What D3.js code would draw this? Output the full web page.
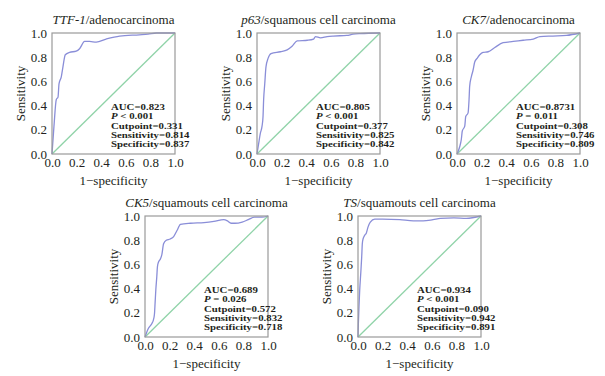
<!DOCTYPE html>
<html>
<head>
<meta charset="utf-8">
<script src="https://cdn.jsdelivr.net/npm/d3@7"></script>
<style>
  body { margin: 0; background: #fff; }
</style>
</head>
<body>
<svg id="chart" width="605" height="376"></svg>
<script>
// ---- data ----
const markers  = ["TTF-1", "p63", "CK7", "CK5", "TS"];
const subtypes = ["/adenocarcinoma", "/squamous cell carcinoma", "/adenocarcinoma",
                  "/squamouts cell carcinoma", "/squamouts cell carcinoma"];

const aucs        = ["0.823", "0.805", "0.8731", "0.689", "0.934"];
const pValues     = ["< 0.001", "< 0.001", "= 0.011", "= 0.026", "< 0.001"];
const cutpoints   = ["0.331", "0.377", "0.308", "0.572", "0.090"];
const sensitivity = ["0.814", "0.825", "0.746", "0.832", "0.942"];
const specificity = ["0.837", "0.842", "0.809", "0.718", "0.891"];

const tickValues = [0, 0.2, 0.4, 0.6, 0.8, 1.0];

// [1-specificity, sensitivity]
const ttf1Roc = [[0,0],[0.016,0.23],[0.035,0.45],[0.049,0.47],[0.057,0.58],[0.076,0.64],
  [0.089,0.72],[0.108,0.82],[0.143,0.84],[0.197,0.85],[0.224,0.87],[0.265,0.93],[0.305,0.93],
  [0.36,0.925],[0.44,0.95],[0.55,0.975],[0.71,0.985],[0.78,0.99],[0.85,1.0],[1,1]];
const p63Roc = [[0,0],[0.014,0.09],[0.027,0.17],[0.041,0.23],[0.049,0.31],[0.054,0.45],
  [0.063,0.58],[0.073,0.72],[0.09,0.79],[0.114,0.83],[0.19,0.845],[0.245,0.86],[0.285,0.89],
  [0.326,0.935],[0.41,0.94],[0.46,0.95],[0.475,0.97],[0.516,0.96],[0.57,0.97],[0.62,0.975],
  [0.73,0.98],[0.78,0.99],[0.84,0.995],[1,1]];
const ck7Roc = [[0,0],[0.022,0.06],[0.035,0.12],[0.043,0.19],[0.063,0.23],[0.071,0.31],
  [0.09,0.34],[0.098,0.45],[0.103,0.56],[0.117,0.64],[0.13,0.69],[0.144,0.76],[0.163,0.79],
  [0.185,0.82],[0.212,0.84],[0.253,0.845],[0.307,0.88],[0.375,0.92],[0.457,0.93],[0.538,0.94],
  [0.62,0.95],[0.674,0.97],[0.78,0.975],[0.89,0.98],[1,1]];
const ck5Roc = [[0,0],[0.014,0.04],[0.027,0.07],[0.055,0.11],[0.068,0.14],[0.077,0.19],
  [0.082,0.28],[0.088,0.39],[0.096,0.5],[0.101,0.58],[0.11,0.62],[0.123,0.64],[0.137,0.68],
  [0.151,0.77],[0.173,0.8],[0.205,0.81],[0.233,0.83],[0.26,0.88],[0.288,0.93],[0.37,0.94],
  [0.48,0.945],[0.56,0.955],[0.64,0.97],[0.67,0.96],[0.7,0.94],[0.73,0.94],[0.79,0.95],
  [0.84,0.97],[0.89,0.99],[0.95,0.99],[1,1]];
const tsRoc = [[0,0],[0.003,0.11],[0.008,0.25],[0.014,0.39],[0.022,0.52],[0.03,0.66],
  [0.035,0.77],[0.041,0.81],[0.054,0.84],[0.068,0.86],[0.082,0.91],[0.1,0.95],[0.136,0.975],
  [0.2,0.975],[0.34,0.97],[0.45,0.96],[0.53,0.96],[0.61,0.97],[0.67,0.98],[0.78,0.985],
  [0.88,0.98],[1,1]];

const rocCurves = [ttf1Roc, p63Roc, ck7Roc, ck5Roc, tsRoc];

// ---- layout ----
const PANEL_W = 123;
const PANEL_H = 121;
const origins = [[52, 33], [257, 33], [457, 33], [145, 216], [358, 216]];

const FONT        = "'Liberation Serif', 'Times New Roman', Times, 'DejaVu Serif', serif";
const TEXT_COLOR  = "#231f20";
const CURVE_COLOR = "#8a8ed8";
const DIAG_COLOR  = "#8fd3a8";
const BOX_COLOR   = "#9a9a9a";

const svg = d3.select("#chart")
  .attr("font-family", FONT);

const x = d3.scaleLinear().domain([0, 1]).range([0, PANEL_W]);
const y = d3.scaleLinear().domain([0, 1]).range([PANEL_H, 0]);

const line = d3.line()
  .x(d => x(d[0]))
  .y(d => y(d[1]))
  .curve(d3.curveMonotoneX);

markers.forEach((m, i) => {
  const [ox, oy] = origins[i];
  const g = svg.append("g").attr("transform", `translate(${ox},${oy})`);

  // diagonal reference
  g.append("path")
   .attr("d", line([[0, 0], [1, 1]]))
   .attr("fill", "none")
   .attr("stroke", DIAG_COLOR)
   .attr("stroke-width", 1.3);

  // roc curve
  g.append("path")
   .attr("d", line(rocCurves[i]))
   .attr("fill", "none")
   .attr("stroke", CURVE_COLOR)
   .attr("stroke-width", 1.3);

  // frame
  g.append("rect")
   .attr("width", PANEL_W).attr("height", PANEL_H)
   .attr("fill", "none")
   .attr("stroke", BOX_COLOR)
   .attr("stroke-width", 1.2);

  const xAxis = g.append("g")
    .attr("transform", `translate(0,${PANEL_H})`)
    .call(d3.axisBottom(x).tickValues(tickValues).tickFormat(d3.format(".1f"))
            .tickSize(0).tickPadding(3.5));
  const yAxis = g.append("g")
    .call(d3.axisLeft(y).tickValues(tickValues).tickFormat(d3.format(".1f"))
            .tickSize(0).tickPadding(5));
  [xAxis, yAxis].forEach(a => {
    a.attr("font-family", FONT).attr("font-size", 13);
    a.select(".domain").remove();
    a.selectAll("text").attr("fill", TEXT_COLOR);
  });

  // title
  const title = g.append("text")
    .attr("x", PANEL_W / 2)
    .attr("y", -9.5)
    .attr("text-anchor", "middle")
    .attr("font-family", FONT)
    .attr("font-size", 13)
    .attr("fill", TEXT_COLOR);
  title.append("tspan").attr("font-style", "italic").text(m);
  title.append("tspan").text(subtypes[i]);

  // axis labels
  g.append("text")
   .attr("x", PANEL_W / 2)
   .attr("y", PANEL_H + 31)
   .attr("text-anchor", "middle")
   .attr("font-family", FONT)
   .attr("font-size", 13)
   .attr("fill", TEXT_COLOR)
   .text("1\u2212specificity");

  g.append("text")
   .attr("transform", `translate(-27.5,${PANEL_H / 2}) rotate(-90)`)
   .attr("text-anchor", "middle")
   .attr("font-family", FONT)
   .attr("font-size", 13)
   .attr("fill", TEXT_COLOR)
   .text("Sensitivity");

  // statistics (wide, short lettering as in the original)
  const stats = g.append("text")
    .attr("transform", "translate(59,77) scale(1.2,1)")
    .attr("font-family", FONT)
    .attr("font-size", 9)
    .attr("font-weight", "bold")
    .attr("fill", TEXT_COLOR);
  const lines = [
    [null, `AUC=${aucs[i]}`],
    ["P", ` ${pValues[i]}`],
    [null, `Cutpoint=${cutpoints[i]}`],
    [null, `Sensitivity=${sensitivity[i]}`],
    [null, `Specificity=${specificity[i]}`]
  ];
  lines.forEach(([it, txt], k) => {
    const row = stats.append("tspan").attr("x", 0).attr("y", k * 9.3);
    if (it) row.append("tspan").attr("font-style", "italic").text(it);
    row.append("tspan").text(txt);
  });
});
</script>
</body>
</html>
